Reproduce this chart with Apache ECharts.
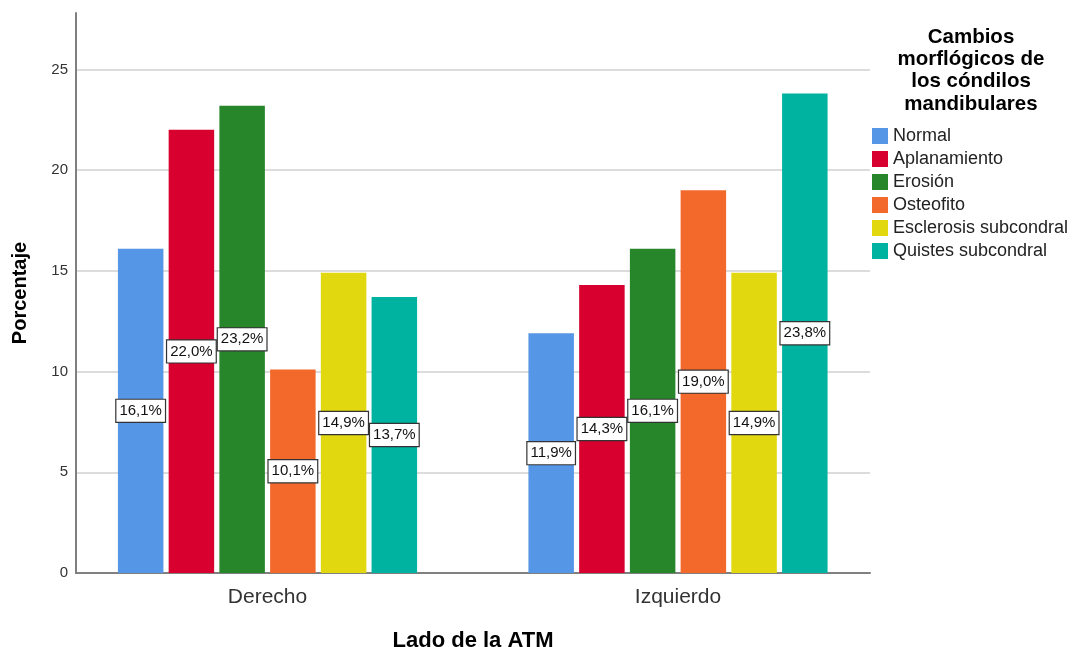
<!DOCTYPE html>
<html>
<head>
<meta charset="utf-8">
<script src="https://cdn.jsdelivr.net/npm/echarts@6/dist/echarts.min.js"></script>
<style>
html,body{margin:0;padding:0;background:#fff;}
#chart{width:1074px;height:647px;}
</style>
</head>
<body>
<div id="chart"></div>
<script>
const categories = ['Derecho', 'Izquierdo'];
const seriesNames = ['Normal', 'Aplanamiento', 'Erosión', 'Osteofito', 'Esclerosis subcondral', 'Quistes subcondral'];
const normal = [16.1, 11.9];
const aplanamiento = [22.0, 14.3];
const erosion = [23.2, 16.1];
const osteofito = [10.1, 19.0];
const esclerosis = [14.9, 14.9];
const quistes = [13.7, 23.8];
const yTicks = [0, 5, 10, 15, 20, 25];
const legendTitle = 'Cambios\nmorflógicos de\nlos cóndilos\nmandibulares';
const xTitle = 'Lado de la ATM';
const yTitle = 'Porcentaje';

const seriesValues = [normal, aplanamiento, erosion, osteofito, esclerosis, quistes];
const colors = ['#5596E6', '#D7002F', '#28862A', '#F2692B', '#E2D810', '#00B3A0'];
const FONT = '"Liberation Sans", Arial, sans-serif';
const YMAX = 27.8;

const chart = echarts.init(document.getElementById('chart'), null, {renderer: 'canvas'});

const series = seriesNames.map((name, i) => ({
  name: name,
  type: 'bar',
  xAxisIndex: 1,
  yAxisIndex: 1,
  data: seriesValues[i],
  barWidth: 45.5,
  barGap: '11.5%',
  itemStyle: {color: colors[i]},
  z: 3,
  label: {
    show: true,
    position: 'inside',
    formatter: p => p.value.toFixed(1).replace('.', ',') + '%',
    fontFamily: FONT,
    fontSize: 15,
    color: '#111',
    backgroundColor: '#fff',
    borderColor: '#333',
    borderWidth: 1.2,
    padding: [4, 3, 3, 3]
  }
}));

chart.setOption({
  animation: false,
  color: colors,
  textStyle: {fontFamily: FONT},
  title: {
    text: legendTitle,
    left: 966,
    top: 21,
    textAlign: 'center',
    textStyle: {fontFamily: FONT, fontSize: 20.5, fontWeight: 'bold', color: '#000', lineHeight: 22.3, align: 'center'}
  },
  legend: {
    orient: 'vertical',
    left: 867,
    top: 122,
    itemWidth: 16,
    itemHeight: 16,
    itemGap: 5,
    icon: 'rect',
    data: seriesNames,
    textStyle: {fontFamily: FONT, fontSize: 18, color: '#222', lineHeight: 18}
  },
  grid: [
    {left: 76, right: 204, top: 13, bottom: 74, containLabel: false, outerBoundsMode: 'none'},
    {left: 62.25, right: 190.75, top: 13, bottom: 74, containLabel: false, outerBoundsMode: 'none'}
  ],
  xAxis: [
    {
      type: 'category', gridIndex: 0, data: categories,
      axisLine: {show: true, lineStyle: {color: '#808080', width: 2}},
      axisTick: {show: false},
      axisLabel: {show: false},
      splitLine: {show: false},
      name: xTitle,
      nameLocation: 'middle',
      nameGap: 57,
      nameTextStyle: {fontFamily: FONT, fontSize: 22, fontWeight: 'bold', color: '#000'}
    },
    {
      type: 'category', gridIndex: 1, data: categories,
      axisLine: {show: false},
      axisTick: {show: false},
      axisLabel: {show: true, fontFamily: FONT, fontSize: 21, color: '#333', margin: 14},
      splitLine: {show: false}
    }
  ],
  yAxis: [
    {
      type: 'value', gridIndex: 0, min: 0, max: YMAX, interval: 5,
      axisLine: {show: true, lineStyle: {color: '#808080', width: 2}},
      axisTick: {show: false},
      axisLabel: {
        show: true, fontFamily: FONT, fontSize: 15, color: '#333', margin: 8,
        showMaxLabel: false,
        formatter: v => (yTicks.indexOf(v) >= 0 ? String(v) : '')
      },
      splitLine: {show: true, showMaxLine: false, lineStyle: {color: '#d0d0d0', width: 1.5}},
      name: yTitle,
      nameLocation: 'middle',
      nameGap: 46,
      nameTextStyle: {fontFamily: FONT, fontSize: 20, fontWeight: 'bold', color: '#000'}
    },
    {
      type: 'value', gridIndex: 1, min: 0, max: YMAX, interval: 5,
      show: false,
      splitLine: {show: false}
    }
  ],
  series: series
});
</script>
</body>
</html>
